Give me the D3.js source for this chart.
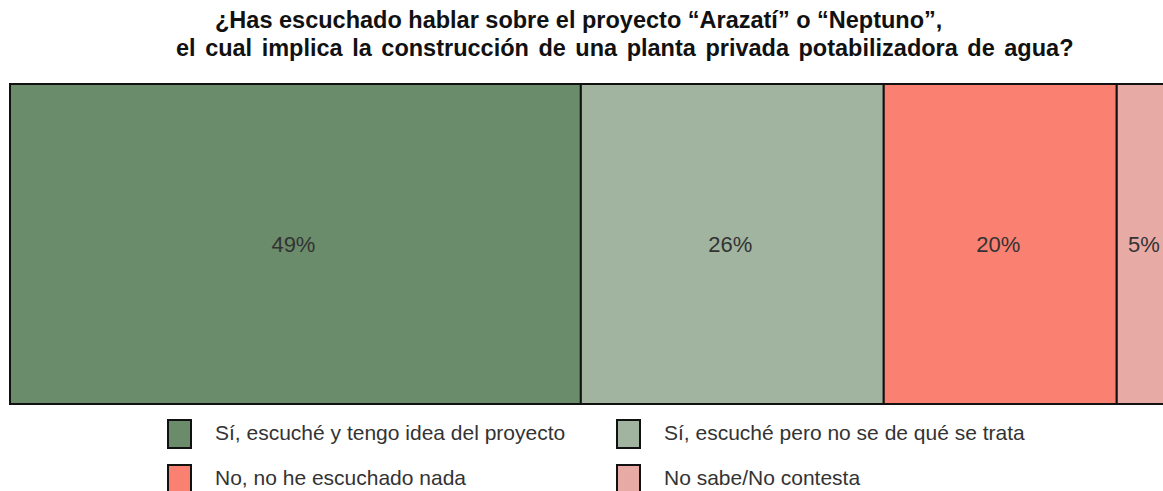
<!DOCTYPE html>
<html>
<head>
<meta charset="utf-8">
<script src="https://cdn.jsdelivr.net/npm/d3@7"></script>
<style>
  body { margin: 0; background: #fff; }
  text { font-family: "Liberation Sans", Arial, sans-serif; }
</style>
</head>
<body>
<script>
// survey answers, percentages
let categories = [
  "Sí, escuché y tengo idea del proyecto",
  "Sí, escuché pero no se de qué se trata",
  "No, no he escuchado nada",
  "No sabe/No contesta"
];
let values = [49, 26, 20, 5];
let colors = ["#6b8c6a", "#a1b4a0", "#fa8072", "#e8aaa5"];
let titleLines = [
  "¿Has escuchado hablar sobre el proyecto “Arazatí” o “Neptuno”,",
  "el cual implica la construcción de una planta privada potabilizadora de agua?"
];

let svg = d3.select("body").append("svg")
  .attr("width", 1163)
  .attr("height", 491);

// cumulative start/end for each segment
let acc = 0;
let segs = values.map((v, i) => {
  let s = { name: categories[i], value: v, x0: acc, x1: acc + v, color: colors[i] };
  acc += v;
  return s;
});

// the plot runs past the right edge of the picture
let x = d3.scaleLinear().domain([0, 100]).range([10, 1175]);
let barTop = 84, barBottom = 404;

svg.append("g")
  .attr("font-weight", "bold")
  .attr("font-size", 23.5)
  .attr("fill", "#111")
  .selectAll("text")
  .data(titleLines)
  .enter().append("text")
  .attr("x", (d, i) => i == 0 ? 215 : 176)
  .attr("y", (d, i) => 28 + i * 28)
  .attr("word-spacing", (d, i) => i == 0 ? 0 : 3)
  .text(d => d);

let bars = svg.append("g");

bars.selectAll("rect")
  .data(segs)
  .enter().append("rect")
  .attr("x", d => x(d.x0))
  .attr("y", barTop)
  .attr("width", d => x(d.x1) - x(d.x0))
  .attr("height", barBottom - barTop)
  .attr("fill", d => d.color)
  .attr("stroke", "#111")
  .attr("stroke-width", 2);

bars.selectAll("text")
  .data(segs)
  .enter().append("text")
  .attr("x", d => (x(d.x0) + x(d.x1)) / 2 - 2)
  .attr("y", (barTop + barBottom) / 2)
  .attr("dy", "0.35em")
  .attr("text-anchor", "middle")
  .attr("font-size", 22)
  .attr("fill", "#333")
  .text(d => d.value + "%");

// legend, two columns (second row sits right at the bottom edge)
let legend = svg.append("g")
  .selectAll("g")
  .data(segs)
  .enter().append("g")
  .attr("transform", (d, i) => `translate(${168 + (i % 2) * 449}, ${420 + Math.floor(i / 2) * 45})`);

legend.append("rect")
  .attr("width", 23)
  .attr("height", 28)
  .attr("fill", d => d.color)
  .attr("stroke", "#111")
  .attr("stroke-width", 2);

legend.append("text")
  .attr("x", 47)
  .attr("y", 13)
  .attr("dy", "0.35em")
  .attr("font-size", 21)
  .attr("fill", "#333")
  .text(d => d.name);
</script>
</body>
</html>
